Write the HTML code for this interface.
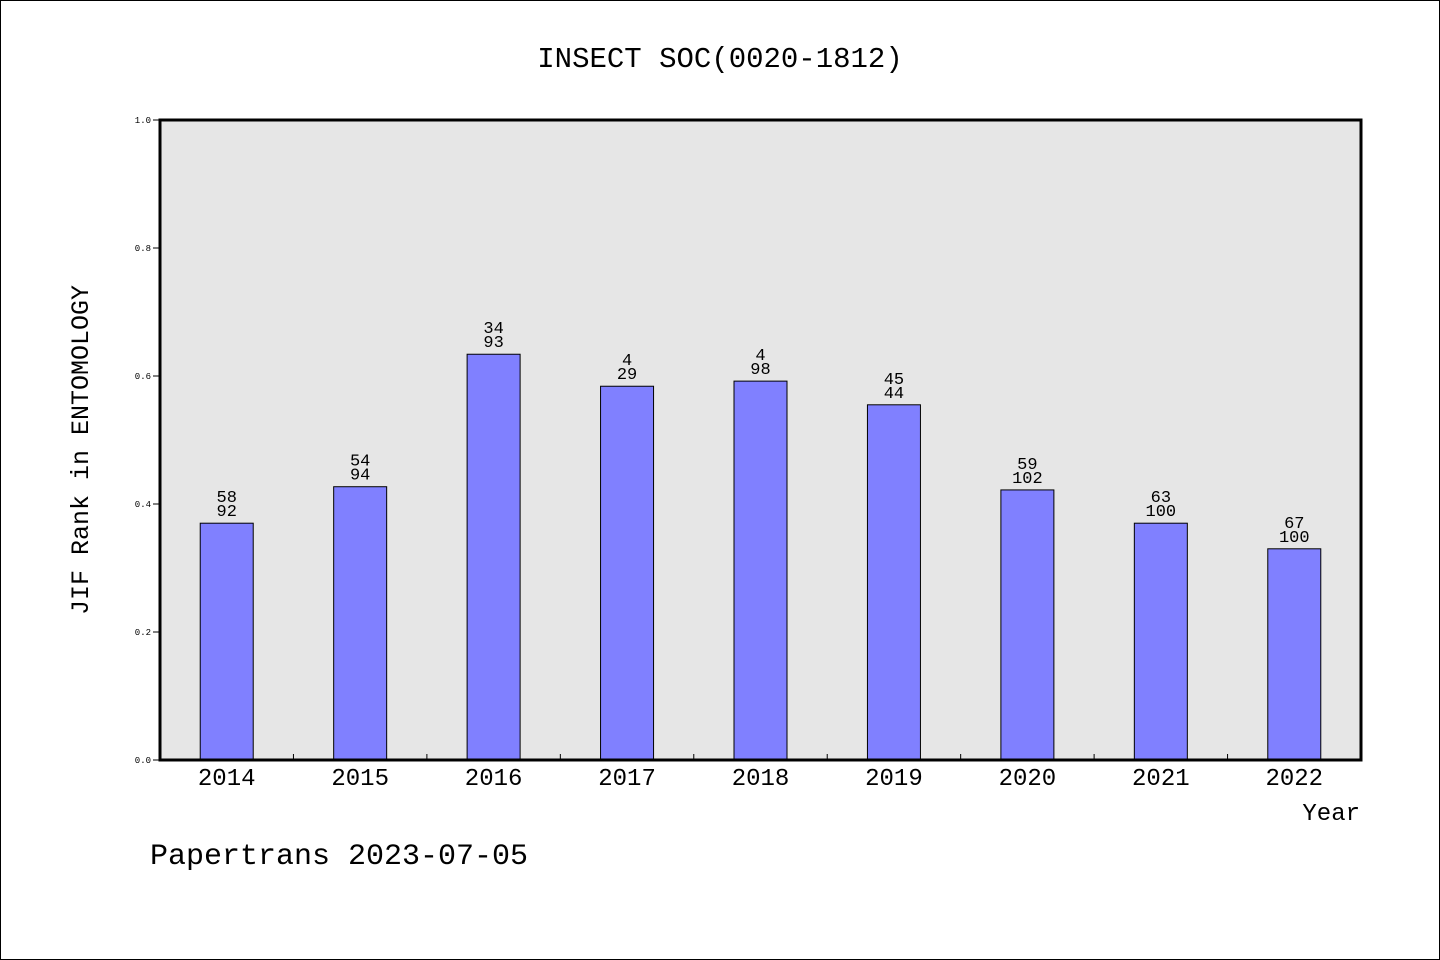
<!DOCTYPE html>
<html><head><meta charset="utf-8"><style>
html,body{margin:0;padding:0;background:#fff}
svg{display:block}
text{font-family:"Liberation Mono","DejaVu Sans Mono",monospace;fill:#000}
</style></head><body>
<svg id="chart" width="1440" height="960" viewBox="0 0 1440 960">
<rect x="0.5" y="0.5" width="1439" height="959" fill="#fff" stroke="#000"/>
<text x="720" y="67" font-size="29" text-anchor="middle">INSECT SOC(0020-1812)</text>
<rect x="160" y="120" width="1201" height="640" fill="#e6e6e6"/>
<g id="marks"></g>
<rect x="160" y="120" width="1201" height="640" fill="none" stroke="#000" stroke-width="3"/>
<text transform="translate(88,450) rotate(-90)" font-size="25" text-anchor="middle">JIF Rank in ENTOMOLOGY</text>
<text x="1360" y="820" font-size="24" text-anchor="end">Year</text>
<text x="150" y="864" font-size="30">Papertrans 2023-07-05</text>
</svg>
<script>
const categories=["2014","2015","2016","2017","2018","2019","2020","2021","2022"];
const values=[0.370,0.427,0.634,0.584,0.592,0.555,0.422,0.370,0.330];
const ranks=["58","54","34","4","4","45","59","63","67"];
const totals=["92","94","93","29","98","44","102","100","100"];
const yTicks=["0.0","0.2","0.4","0.6","0.8","1.0"];
const NS="http://www.w3.org/2000/svg";
const g=document.getElementById('marks');
const x0=160,x1=1361,yb=760,yt=120;
const bw=(x1-x0)/categories.length;
const xC=i=>x0+bw*(i+0.5);
const yS=v=>yb-(yb-yt)*v;
function mk(t,a,txt){const e=document.createElementNS(NS,t);for(const k in a)e.setAttribute(k,a[k]);if(txt!=null)e.textContent=txt;g.appendChild(e);return e;}
yTicks.forEach(t=>{const y=yS(parseFloat(t));
const l=mk('line',{x1:153,x2:160,y1:y,y2:y,stroke:'#000'});


const tx=mk('text',{x:151,y:y+3,'font-size':9,'text-anchor':'end'},t);


});
categories.forEach((c,i)=>{
const cx=xC(i),top=yS(values[i]);
const r=mk('rect',{x:cx-26.5,y:top,width:53,height:yb-top,fill:'#8080ff',stroke:'#000','stroke-width':1});


const a=mk('text',{x:cx,y:top-21,'font-size':17,'text-anchor':'middle'},ranks[i]);


const b=mk('text',{x:cx,y:top-7,'font-size':17,'text-anchor':'middle'},totals[i]);


const xl=mk('text',{x:cx,y:785,'font-size':24,'text-anchor':'middle'},c);


if(i>0){const tk=mk('line',{x1:x0+bw*i,x2:x0+bw*i,y1:754,y2:760,stroke:'#000'});

}
});
</script>
</body></html>
